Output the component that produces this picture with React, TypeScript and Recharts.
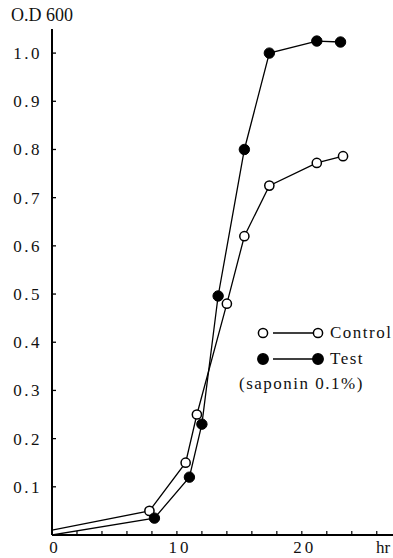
import React from 'react';
import { LineChart, Line, XAxis, YAxis } from 'recharts';

// growth curve, O.D 600 vs time (hr)
const controlHours = [0, 7.8, 10.7, 11.6, 14.0, 15.4, 17.4, 21.2, 23.3];
const controlOD = [0.01, 0.05, 0.15, 0.25, 0.48, 0.62, 0.725, 0.772, 0.786];
const testHours = [0, 8.2, 11.0, 12.0, 13.3, 15.4, 17.4, 21.2, 23.1];
const testOD = [0, 0.035, 0.12, 0.23, 0.496, 0.8, 1.0, 1.025, 1.023];

const xTicks = [0, 2, 4, 6, 8, 10, 12, 14, 16, 18, 20, 22, 24, 26];
const xLabels = [0, 10, 20];
const yTicks = [0.1, 0.2, 0.3, 0.4, 0.5, 0.6, 0.7, 0.8, 0.9, 1.0];
const legendItems = [
  { name: 'Control', filled: false },
  { name: 'Test', filled: true },
];

const controlData = controlHours.map((hr, i) => ({ hr, od: controlOD[i] }));
const testData = testHours.map((hr, i) => ({ hr, od: testOD[i] }));

const FONT = '"Liberation Serif", "DejaVu Serif", serif';
const Y_MARGIN = 10;
const X_MARGIN = 12;

const YTick = (props: any) => {
  const { x, y, payload } = props;
  const axisX = x + Y_MARGIN;
  return (
    <g>
      <line x1={axisX} x2={axisX + 4} y1={y} y2={y} stroke="#000" strokeWidth={1.3} />
      <text x={x} y={y} dy={6} textAnchor="end" fontSize={17} letterSpacing={2.5} fill="#111" fontFamily={FONT}>
        {payload.value.toFixed(1)}
      </text>
    </g>
  );
};

const XTick = (props: any) => {
  const { x, y, payload } = props;
  const axisY = y - X_MARGIN;
  return (
    <g>
      <line x1={x} x2={x} y1={axisY} y2={axisY - 4} stroke="#000" strokeWidth={1.2} />
      {xLabels.includes(payload.value) && (
        <text x={x + 3} y={y} dy={6} textAnchor="middle" fontSize={17} letterSpacing={3} fill="#111" fontFamily={FONT}>
          {payload.value}
        </text>
      )}
    </g>
  );
};

const openDot = (props: any) => {
  const { cx, cy, index } = props;
  if (index === 0) return <g key={`c-${index}`} />;
  return <circle key={`c-${index}`} cx={cx} cy={cy} r={4.6} fill="#fff" stroke="#000" strokeWidth={1.5} />;
};

const filledDot = (props: any) => {
  const { cx, cy, index } = props;
  if (index === 0) return <g key={`t-${index}`} />;
  return <circle key={`t-${index}`} cx={cx} cy={cy} r={5.2} fill="#000" stroke="#000" strokeWidth={1} />;
};

const LegendBox = () => (
  <div
    style={{
      position: 'absolute',
      left: 232,
      top: 320,
      width: 161,
      overflow: 'hidden',
      fontFamily: FONT,
      fontSize: 17,
      color: '#111',
      letterSpacing: 1.5,
      whiteSpace: 'nowrap',
    }}
  >
    {legendItems.map((item) => (
      <div key={item.name} style={{ display: 'flex', alignItems: 'center', height: 26 }}>
        <svg width={98} height={14} style={{ flex: 'none' }}>
          <circle cx={31} cy={7} r={item.filled ? 5.2 : 4.6} fill={item.filled ? '#000' : '#fff'} stroke="#000" strokeWidth={1.5} />
          <line x1={41} x2={81} y1={7} y2={7} stroke="#000" strokeWidth={1.3} />
          <circle cx={86} cy={7} r={item.filled ? 5.2 : 4.6} fill={item.filled ? '#000' : '#fff'} stroke="#000" strokeWidth={1.5} />
        </svg>
        <span>{item.name}</span>
      </div>
    ))}
    <div style={{ paddingLeft: 7, height: 24, lineHeight: '24px' }}>(saponin 0.1%)</div>
  </div>
);

export default function App() {
  return (
    <div style={{ position: 'absolute', left: 0, top: 0, width: 393, height: 558, background: '#fff', overflow: 'hidden' }}>
      <div style={{ position: 'absolute', left: 11, top: 5, fontFamily: FONT, fontSize: 18, color: '#111', zIndex: 2 }}>
        O.D 600
      </div>
      <LineChart width={393} height={558} margin={{ top: 29, right: 0, bottom: 0, left: 7 }}>
        <XAxis
          type="number"
          dataKey="hr"
          domain={[0, 27.3]}
          ticks={xTicks}
          interval={0}
          allowDataOverflow
          height={23}
          tickSize={0}
          tickMargin={X_MARGIN}
          tick={<XTick />}
          axisLine={{ stroke: '#000', strokeWidth: 1.8 }}
          tickLine={false}
          label={{
            content: (p: any) => (
              <text x={p.viewBox.x + p.viewBox.width - 17} y={p.viewBox.y + 18} fontSize={17} fill="#111" fontFamily={FONT}>
                hr
              </text>
            ),
          }}
        />
        <YAxis
          type="number"
          dataKey="od"
          domain={[0, 1.05]}
          ticks={yTicks}
          interval={0}
          allowDataOverflow
          width={45}
          tickSize={0}
          tickMargin={Y_MARGIN}
          tick={<YTick />}
          axisLine={{ stroke: '#000', strokeWidth: 2 }}
          tickLine={false}
        />
        <Line
          data={controlData}
          dataKey="od"
          name="Control"
          type="linear"
          stroke="#000"
          strokeWidth={1.3}
          dot={openDot}
          activeDot={false}
          isAnimationActive={false}
        />
        <Line
          data={testData}
          dataKey="od"
          name="Test"
          type="linear"
          stroke="#000"
          strokeWidth={1.3}
          dot={filledDot}
          activeDot={false}
          isAnimationActive={false}
        />
      </LineChart>
      <LegendBox />
    </div>
  );
}
